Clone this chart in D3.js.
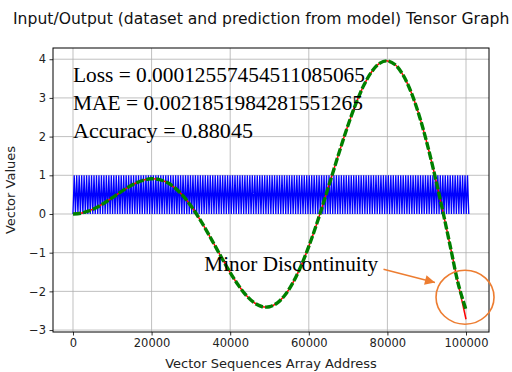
<!DOCTYPE html>
<html>
<head>
<meta charset="utf-8">
<script src="https://cdn.jsdelivr.net/npm/d3@7"></script>
<style>
  html, body { margin: 0; padding: 0; background: #fff; }
  svg { display: block; }
</style>
</head>
<body>
<svg id="chart" width="512" height="372"></svg>
<script>
// Sample addresses along the vector sequence
const sampleAddress = [
  0, 2000, 4000, 6000, 8000, 10000, 12000, 14000, 16000, 18000,
  20000, 22000, 24000, 26000, 28000, 30000, 32000, 34000, 36000, 38000,
  40000, 42000, 44000, 46000, 48000, 50000, 52000, 54000, 56000, 58000,
  60000, 62000, 64000, 66000, 68000, 70000, 72000, 74000, 76000, 78000,
  80000, 82000, 84000, 86000, 88000, 90000, 92000, 94000, 96000, 98000,
  100000
];

// Model prediction (red)
const predictionValues = [
  0.000, 0.020, 0.078, 0.169, 0.287, 0.421, 0.559, 0.690, 0.800, 0.877,
  0.909, 0.889, 0.811, 0.670, 0.469, 0.212, -0.093, -0.434, -0.797, -1.163,
  -1.514, -1.830, -2.094, -2.286, -2.391, -2.397, -2.297, -2.087, -1.768, -1.347,
  -0.838, -0.258, 0.373, 1.028, 1.680, 2.300, 2.857, 3.325, 3.678, 3.894,
  3.957, 3.857, 3.589, 3.158, 2.574, 1.855, 1.025, 0.117, -0.837, -1.796,
  -2.720
];

// Dataset output (green dashed)
const datasetValues = [
  0.000, 0.020, 0.078, 0.169, 0.287, 0.421, 0.559, 0.690, 0.800, 0.877,
  0.909, 0.889, 0.811, 0.670, 0.469, 0.212, -0.093, -0.434, -0.797, -1.163,
  -1.514, -1.830, -2.094, -2.286, -2.391, -2.397, -2.297, -2.087, -1.768, -1.347,
  -0.838, -0.258, 0.373, 1.028, 1.680, 2.300, 2.857, 3.325, 3.678, 3.894,
  3.957, 3.857, 3.589, 3.158, 2.574, 1.855, 1.025, 0.117, -0.837, -1.796,
  -2.480
];

// Dataset input signal (blue), oscillating between 0 and 1
const inputSignal = [
  0,1,0,1,0,1,0,1,0,1,0,1,0,1,0,1,0,1,0,1,
  0,1,0,1,0,1,0,1,0,1,0,1,0,1,0,1,0,1,0,1,
  0,1,0,1,0,1,0,1,0,1,0,1,0,1,0,1,0,1,0,1,
  0,1,0,1,0,1,0,1,0,1,0,1,0,1,0,1,0,1,0,1,
  0,1,0,1,0,1,0,1,0,1,0,1,0,1,0,1,0,1,0,1,
  0,1,0,1,0,1,0,1,0,1,0,1,0,1,0,1,0,1,0,1,
  0,1,0,1,0,1,0,1,0,1,0,1,0,1,0,1,0,1,0,1,
  0,1,0,1,0,1,0,1,0,1,0,1,0,1,0,1,0,1,0,1,
  0,1,0,1,0,1,0,1,0,1,0,1,0,1,0,1,0,1,0,1,
  0,1,0,1,0,1,0,1,0,1,0,1,0,1,0,1,0,1,0,1,
  0,1,0,1,0,1,0,1,0,1,0,1,0,1,0,1,0,1,0,1,
  0,1,0,1,0,1,0,1,0,1,0,1,0,1,0,1,0,1,0,1,
  0,1,0,1,0,1,0,1,0,1,0,1,0,1,0,1,0,1,0,1,
  0,1,0,1,0,1,0,1,0,1,0,1,0,1,0,1,0,1,0,1,
  0,1,0,1,0,1,0,1,0,1,0,1,0,1,0,1,0,1,0,1,
  0,1,0,1,0,1,0,1,0,1,0,1,0,1,0,1,0,1,0,1,
  0
];
const inputLastAddress = 100700;

const xTickValues = [0, 20000, 40000, 60000, 80000, 100000];
const yTickValues = [-3, -2, -1, 0, 1, 2, 3, 4];

const metricLines = [
  "Loss = 0.00012557454511085065",
  "MAE = 0.0021851984281551265",
  "Accuracy = 0.88045"
];
const metricWidths = [292, 290, 180];

const svg = d3.select("#chart");
const plot = { left: 53, right: 489, top: 48, bottom: 332 };

const x = d3.scaleLinear().domain([-5085, 105850]).range([plot.left, plot.right]);
const y = d3.scaleLinear().domain([-3.05, 4.29]).range([plot.bottom, plot.top]);

const sans = "'DejaVu Sans', sans-serif";

// Title
svg.append("text")
  .attr("x", 13).attr("y", 24)
  .attr("font-family", sans).attr("font-size", 15.6)
  .attr("fill", "#111")
  .text("Input/Output (dataset and prediction from model) Tensor Graph");

// Grid
const grid = svg.append("g").attr("stroke", "#b0b0b0").attr("stroke-width", 0.8);
grid.selectAll(".gx").data(xTickValues).join("line")
  .attr("x1", d => x(d)).attr("x2", d => x(d))
  .attr("y1", plot.top).attr("y2", plot.bottom);
grid.selectAll(".gy").data(yTickValues).join("line")
  .attr("x1", plot.left).attr("x2", plot.right)
  .attr("y1", d => y(d)).attr("y2", d => y(d));

// Clip for series
svg.append("clipPath").attr("id", "plotclip").append("rect")
  .attr("x", plot.left).attr("y", plot.top)
  .attr("width", plot.right - plot.left).attr("height", plot.bottom - plot.top);

const series = svg.append("g").attr("clip-path", "url(#plotclip)");

// Input signal
const inputStep = inputLastAddress / (inputSignal.length - 1);
const inputLine = d3.line()
  .x((d, i) => x(i * inputStep))
  .y(d => y(d));
series.append("path")
  .datum(inputSignal)
  .attr("d", inputLine)
  .attr("fill", "none")
  .attr("stroke", "#0000ff")
  .attr("stroke-width", 1.3)
  .attr("stroke-linejoin", "bevel");

const curveLine = d3.line()
  .x((d, i) => x(sampleAddress[i]))
  .y(d => y(d))
  .curve(d3.curveCatmullRom);

series.append("path")
  .datum(predictionValues)
  .attr("d", curveLine)
  .attr("fill", "none")
  .attr("stroke", "#ff0000")
  .attr("stroke-width", 1.5);

series.append("path")
  .datum(datasetValues)
  .attr("d", curveLine)
  .attr("fill", "none")
  .attr("stroke", "#008000")
  .attr("stroke-width", 3.4)
  .attr("stroke-dasharray", "8,2.2");

// Frame
svg.append("rect")
  .attr("x", plot.left).attr("y", plot.top)
  .attr("width", plot.right - plot.left).attr("height", plot.bottom - plot.top)
  .attr("fill", "none").attr("stroke", "#000").attr("stroke-width", 1);

// Axes
const xAxis = d3.axisBottom(x).tickValues(xTickValues).tickFormat(d3.format("d"))
  .tickSizeInner(3.5).tickSizeOuter(0).tickPadding(3.5);
const gx = svg.append("g").attr("transform", `translate(0,${plot.bottom})`).call(xAxis);
const yAxis = d3.axisLeft(y).tickValues(yTickValues).tickFormat(d => d < 0 ? "\u2212" + Math.abs(d) : String(d))
  .tickSizeInner(3.5).tickSizeOuter(0).tickPadding(3.5);
const gy = svg.append("g").attr("transform", `translate(${plot.left},0)`).call(yAxis);
[gx, gy].forEach(g => {
  g.select(".domain").remove();
  g.selectAll(".tick line").attr("stroke", "#000").attr("stroke-width", 0.8);
  g.selectAll(".tick text").attr("font-family", sans).attr("font-size", 11.5).attr("fill", "#222");
});

// Axis labels
svg.append("text")
  .attr("x", (plot.left + plot.right) / 2).attr("y", 368)
  .attr("text-anchor", "middle")
  .attr("font-family", sans).attr("font-size", 13).attr("fill", "#222")
  .text("Vector Sequences Array Address");
svg.append("text")
  .attr("transform", `translate(15,${(plot.top + plot.bottom) / 2}) rotate(-90)`)
  .attr("text-anchor", "middle")
  .attr("font-family", sans).attr("font-size", 13).attr("fill", "#222")
  .text("Vector Values");

// Metrics
const serif = "'Liberation Serif', 'Times New Roman', serif";
const metricBaselines = [3.41, 2.69, 1.97];
svg.append("g").selectAll("text").data(metricLines).join("text")
  .attr("x", x(0)).attr("y", (d, i) => y(metricBaselines[i]))
  .attr("font-family", serif).attr("font-size", 21.5).attr("fill", "#000")
  .attr("textLength", (d, i) => metricWidths[i])
  .attr("lengthAdjust", "spacingAndGlyphs")
  .text(d => d);

// Annotation
const orange = "#ed7d31";
svg.append("text")
  .attr("x", x(33400)).attr("y", y(-1.48))
  .attr("font-family", serif).attr("font-size", 21).attr("fill", "#000")
  .attr("textLength", 174).attr("lengthAdjust", "spacingAndGlyphs")
  .text("Minor Discontinuity");

svg.append("defs").append("marker")
  .attr("id", "arrowhead")
  .attr("viewBox", "0 0 10 10")
  .attr("refX", 10).attr("refY", 5)
  .attr("markerWidth", 12).attr("markerHeight", 10)
  .attr("markerUnits", "userSpaceOnUse")
  .attr("orient", "auto")
  .append("path").attr("d", "M0,0 L10,5 L0,10 z").attr("fill", orange);

svg.append("line")
  .attr("x1", x(79000)).attr("y1", y(-1.43))
  .attr("x2", x(92100)).attr("y2", y(-1.77))
  .attr("stroke", orange).attr("stroke-width", 1.5)
  .attr("marker-end", "url(#arrowhead)");

svg.append("ellipse")
  .attr("cx", x(99750)).attr("cy", y(-2.15))
  .attr("rx", 29).attr("ry", 27)
  .attr("fill", "none").attr("stroke", orange).attr("stroke-width", 1.6);
</script>
</body>
</html>
